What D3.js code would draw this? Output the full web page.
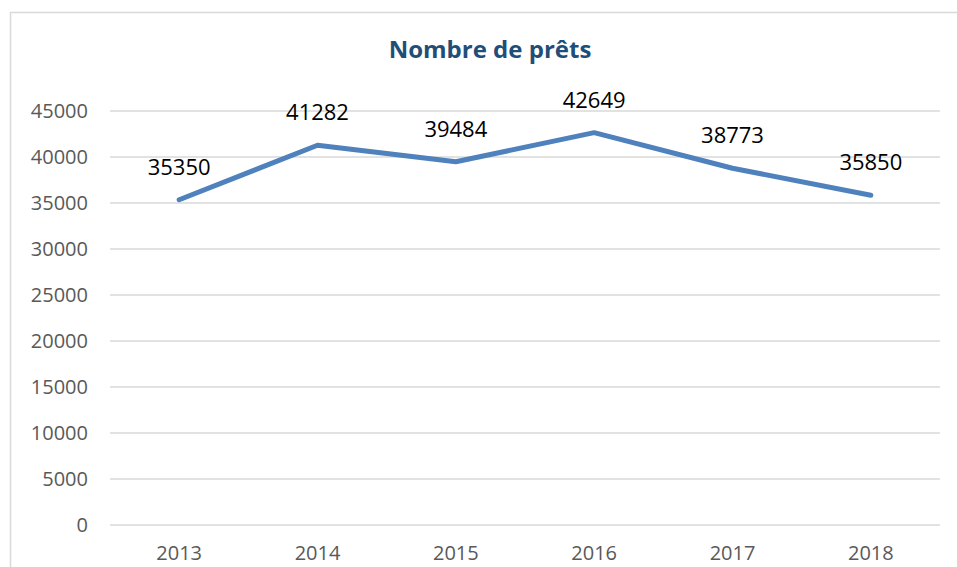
<!DOCTYPE html>
<meta charset="utf-8" />
<style>
  body { margin: 0; background: #fff; }
  svg { display: block; font-family: "Open Sans", sans-serif; }
  .grid line { stroke: #d9d9d9; stroke-width: 1.3; }
  .axis text { fill: #595959; font-size: 20px; font-family: "Open Sans", sans-serif; }
</style>
<body>
  <script src="https://d3js.org/d3.v7.min.js"></script>
  <script>
    // data
    const years = ["2013", "2014", "2015", "2016", "2017", "2018"];
    const loans = [35350, 41282, 39484, 42649, 38773, 35850];
    const yTicks = [0, 5000, 10000, 15000, 20000, 25000, 30000, 35000, 40000, 45000];
    const title = "Nombre de prêts";

    const W = 957, H = 567;
    const margin = { top: 111, right: 17, bottom: 42, left: 110 },
      width = W - margin.left - margin.right,
      height = H - margin.top - margin.bottom;

    const svg = d3.select("body").append("svg")
      .attr("width", W)
      .attr("height", H);

    // chart frame (only top and left edges show)
    svg.append("rect")
      .attr("x", 10.5).attr("y", 12.5)
      .attr("width", W + 20).attr("height", H + 20)
      .attr("fill", "none")
      .attr("stroke", "#d9d9d9")
      .attr("stroke-width", 1.5);

    svg.append("text")
      .attr("x", 490).attr("y", 58)
      .attr("text-anchor", "middle")
      .attr("fill", "#1f4e79")
      .attr("font-weight", "bold")
      .attr("font-size", "24px")
      .text(title);

    const g = svg.append("g")
      .attr("transform", "translate(" + margin.left + "," + margin.top + ")");

    const x = d3.scaleBand().domain(years).range([0, width]);
    const y = d3.scaleLinear().domain([0, 45000]).range([height, 0]);

    // gridlines
    g.append("g").attr("class", "grid")
      .selectAll("line")
      .data(yTicks)
      .join("line")
      .attr("x1", 0).attr("x2", width)
      .attr("y1", d => y(d)).attr("y2", d => y(d));

    // y axis labels
    const yAxis = g.append("g").attr("class", "axis")
      .call(d3.axisLeft(y).tickValues(yTicks).tickFormat(d3.format("d")).tickSize(0).tickPadding(22));
    yAxis.select(".domain").remove();

    // x axis labels
    const xAxis = g.append("g").attr("class", "axis")
      .attr("transform", "translate(0," + height + ")")
      .call(d3.axisBottom(x).tickSize(0).tickPadding(21));
    xAxis.select(".domain").remove();

    const line = d3.line()
      .x((d, i) => x(years[i]) + x.bandwidth() / 2)
      .y(d => y(d));

    g.append("path")
      .datum(loans)
      .attr("fill", "none")
      .attr("stroke", "#4f81bd")
      .attr("stroke-width", 5)
      .attr("stroke-linecap", "round")
      .attr("stroke-linejoin", "round")
      .attr("d", line);

    // data labels
    g.selectAll(".lbl")
      .data(loans)
      .join("text")
      .attr("class", "lbl")
      .attr("x", (d, i) => x(years[i]) + x.bandwidth() / 2)
      .attr("y", d => y(d) - 25)
      .attr("text-anchor", "middle")
      .attr("fill", "#000")
      .attr("font-size", "22px")
      .text(d => d);
  </script>
</body>
